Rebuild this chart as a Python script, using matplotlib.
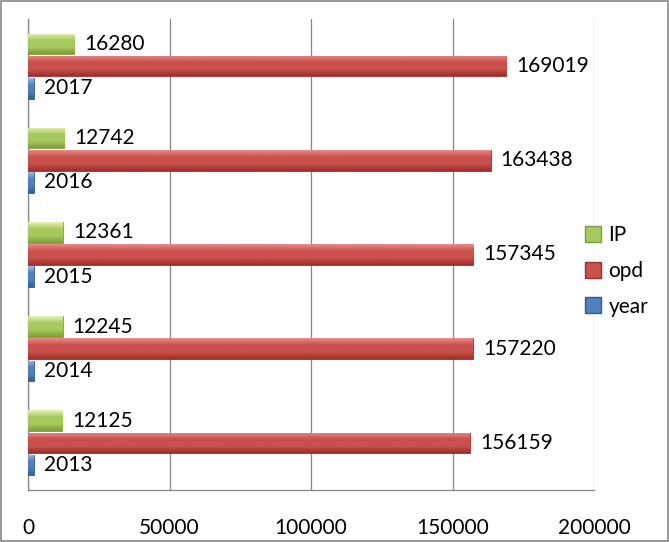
import numpy as np
import matplotlib.pyplot as plt
from matplotlib.patches import Rectangle
from matplotlib.colors import LinearSegmentedColormap

# data
years = [2013, 2014, 2015, 2016, 2017]
opd = [156159, 157220, 157345, 163438, 169019]
ip = [12125, 12245, 12361, 12742, 16280]

plt.rcParams['font.family'] = ['Lato', 'DejaVu Sans']

fig = plt.figure(figsize=(6.69, 5.42), dpi=100)
ax = fig.add_axes([28/669, 52/542, 566/669, 471/542])

y = np.arange(len(years))
h = 0.235

series = [
    ('year', years, -h, ['#9dbbe4', '#4f81bd', '#2f5d94']),
    ('opd', opd, 0.0, ['#ec8a87', '#c9504c', '#9b2f2c']),
    ('IP', ip, h, ['#e2f2b4', '#a6c95e', '#7f9c3c']),
]

handles = []
for name, vals, off, cols in series:
    bars = ax.barh(y + off, vals, height=h * 0.93, color=cols[1],
                   edgecolor=cols[2], linewidth=0.6, label=name, zorder=3)
    cmap = LinearSegmentedColormap.from_list(name, [cols[0], cols[1], cols[1], cols[2]])
    grad = np.linspace(0, 1, 64).reshape(-1, 1)
    for b in bars:
        x0, y0 = b.get_x(), b.get_y()
        im = ax.imshow(grad, cmap=cmap, aspect='auto', origin='upper',
                       extent=[x0, x0 + b.get_width(), y0, y0 + b.get_height()],
                       zorder=3.5)
        im.set_clip_path(b)
    for yi, v in zip(y + off, vals):
        ax.text(v + 3500, yi, str(v), va='center', ha='left', fontsize=15, zorder=5)
    handles.append(Rectangle((0, 0), 1, 1, facecolor=cols[1], edgecolor=cols[2]))

ax.set_xlim(0, 200000)
ax.set_ylim(-0.5, len(years) - 0.5)
ax.set_xticks([0, 50000, 100000, 150000, 200000])
ax.set_yticks([])
ax.tick_params(axis='x', length=0, pad=20, labelsize=15)
ax.grid(axis='x', color='#868686', linewidth=0.9, zorder=0)
for s in ['top', 'right']:
    ax.spines[s].set_visible(False)
for s in ['left', 'bottom']:
    ax.spines[s].set_color('#868686')
    ax.spines[s].set_linewidth(0.9)

fig.legend(handles[::-1], ['IP', 'opd', 'year'], loc='center left',
           bbox_to_anchor=(570/669, 1 - 271/542), frameon=False,
           fontsize=15, handlelength=0.8, handleheight=0.8,
           handletextpad=0.35, labelspacing=0.75, borderpad=0.2)

fig.patches.append(Rectangle((0.002, 0.002), 0.996, 0.996, transform=fig.transFigure,
                             fill=False, edgecolor='#868686', linewidth=1.2))

fig.savefig('out.png', dpi=100)
